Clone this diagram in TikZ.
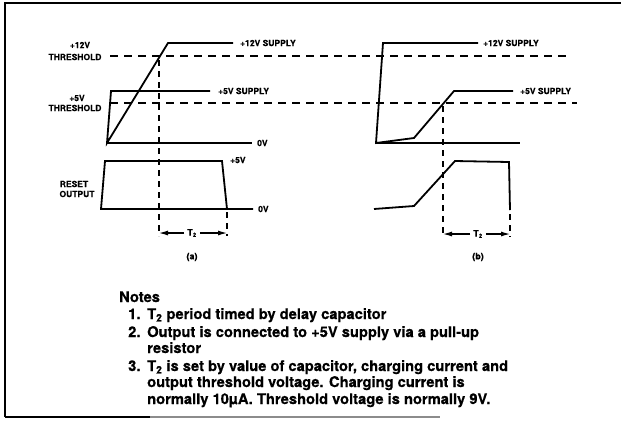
\documentclass[tikz,border=0pt]{standalone}
\usepackage{fontspec}
\setmainfont{TeX Gyre Heros}[BoldFeatures={FakeBold=0.5}]
\usetikzlibrary{arrows.meta}
\begin{document}
\begin{tikzpicture}[x=1pt,y=-1pt,
  wave/.style={line width=1.8pt, line join=miter},
  zero/.style={line width=1.4pt},
  thr/.style={line width=1.4pt, dash pattern=on 8pt off 6pt},
  vdash/.style={line width=1.3pt, dash pattern=on 6pt off 5pt},
  lbl/.style={font=\fontsize{8.5}{9}\selectfont\bfseries, inner sep=0pt},
  small/.style={font=\fontsize{9}{10}\selectfont\bfseries, inner sep=1pt},
  note/.style={font=\fontsize{14.7}{16}\selectfont\bfseries, inner sep=0pt, anchor=base west},
  tarrow/.style={line width=1.1pt, -{Latex[length=9pt,width=5pt]}}
]
\useasboundingbox (0,0) rectangle (621,429);
% frame
\draw[line width=2pt] (5,417) -- (5,3) -- (621,3);
\draw[line width=1.6pt] (5,417) -- (150,417);
\draw[line width=1.2pt, black!45] (150,417) -- (440,417);

% ---------- panel (a)
\draw[thr] (110,56) -- (567,56);
\draw[thr] (110,103) -- (577,103);
\draw[zero] (107,143) -- (252,143);
\draw[wave] (233,43) -- (168,43) -- (107,143) -- (111,91) -- (210,91);
\draw[wave] (253,209) -- (101,209) -- (105,161) -- (222,161) -- (227,209);
\draw[vdash] (159,60) -- (159,236);
\draw[vdash] (227,212) -- (227,236);

\node[lbl] (a12) at (80,45) {+12V};
\node[lbl] (a12t) at (75,57) {THRESHOLD};
\node[lbl] (a5) at (77,98) {+5V};
\node[lbl] (a5t) at (75,108) {THRESHOLD};
\node[lbl, anchor=west] (a12s) at (240,43) {+12V SUPPLY};
\node[lbl, anchor=west] (a5s) at (218,91) {+5V SUPPLY};
\node[lbl, anchor=west] (a0v) at (257,143) {0V};
\node[lbl, anchor=west] (ar5) at (230,160) {+5V};
\node[lbl, anchor=west] (ar0) at (258,209) {0V};
\node[lbl] (rst) at (74,184) {RESET};
\node[lbl] (out) at (77,194) {OUTPUT};

\coordinate (aL) at (159,233);
\coordinate (aR) at (227,233);
\node[small, fill=white] (aT) at (192,233) {T\textsubscript{2}};
\draw[tarrow] (aT.west) ++(-2,0) -- (aL);
\draw[tarrow] (aT.east) ++(2,0) -- (aR);
\node[small] (acap) at (192,257) {(a)};

% ---------- panel (b)
\draw[zero] (376,143) -- (520,143);
\draw[wave] (478,43) -- (383,43) -- (376,143) -- (414,138) -- (454,91) -- (513,91);
\draw[wave] (374,209) -- (414,206) -- (455,161) -- (509,162) -- (510,210);
\draw[vdash] (443,106) -- (443,237);
\draw[vdash] (510,214) -- (510,237);

\node[lbl, anchor=west] (b12s) at (483,43) {+12V SUPPLY};
\node[lbl, anchor=west] (b5s) at (520,91) {+5V SUPPLY};

\coordinate (bL) at (443,234);
\coordinate (bR) at (510,234);
\node[small, fill=white] (bT) at (478,234) {T\textsubscript{2}};
\draw[tarrow] (bT.west) ++(-2,0) -- (bL);
\draw[tarrow] (bT.east) ++(2,0) -- (bR);
\node[small] (bcap) at (478,257) {(b)};

% ---------- notes
\node[note] (nh) at (119,302) {Notes};
\node[note] (n1n) at (128,319) {1.};
\node[note] (n1) at (147,319) {T\textsubscript{2} period timed by delay capacitor};
\node[note] (n2n) at (128,337) {2.};
\node[note] (n2) at (147,337) {Output is connected to +5V supply via a pull-up};
\node[note] (n2b) at (147,353) {resistor};
\node[note] (n3n) at (128,371) {3.};
\node[note] (n3) at (147,371) {T\textsubscript{2} is set by value of capacitor, charging current and};
\node[note] (n3b) at (147,387) {output threshold voltage. Charging current is};
\node[note] (n3c) at (147,404) {normally 10µA. Threshold voltage is normally 9V.};
\end{tikzpicture}
\end{document}
